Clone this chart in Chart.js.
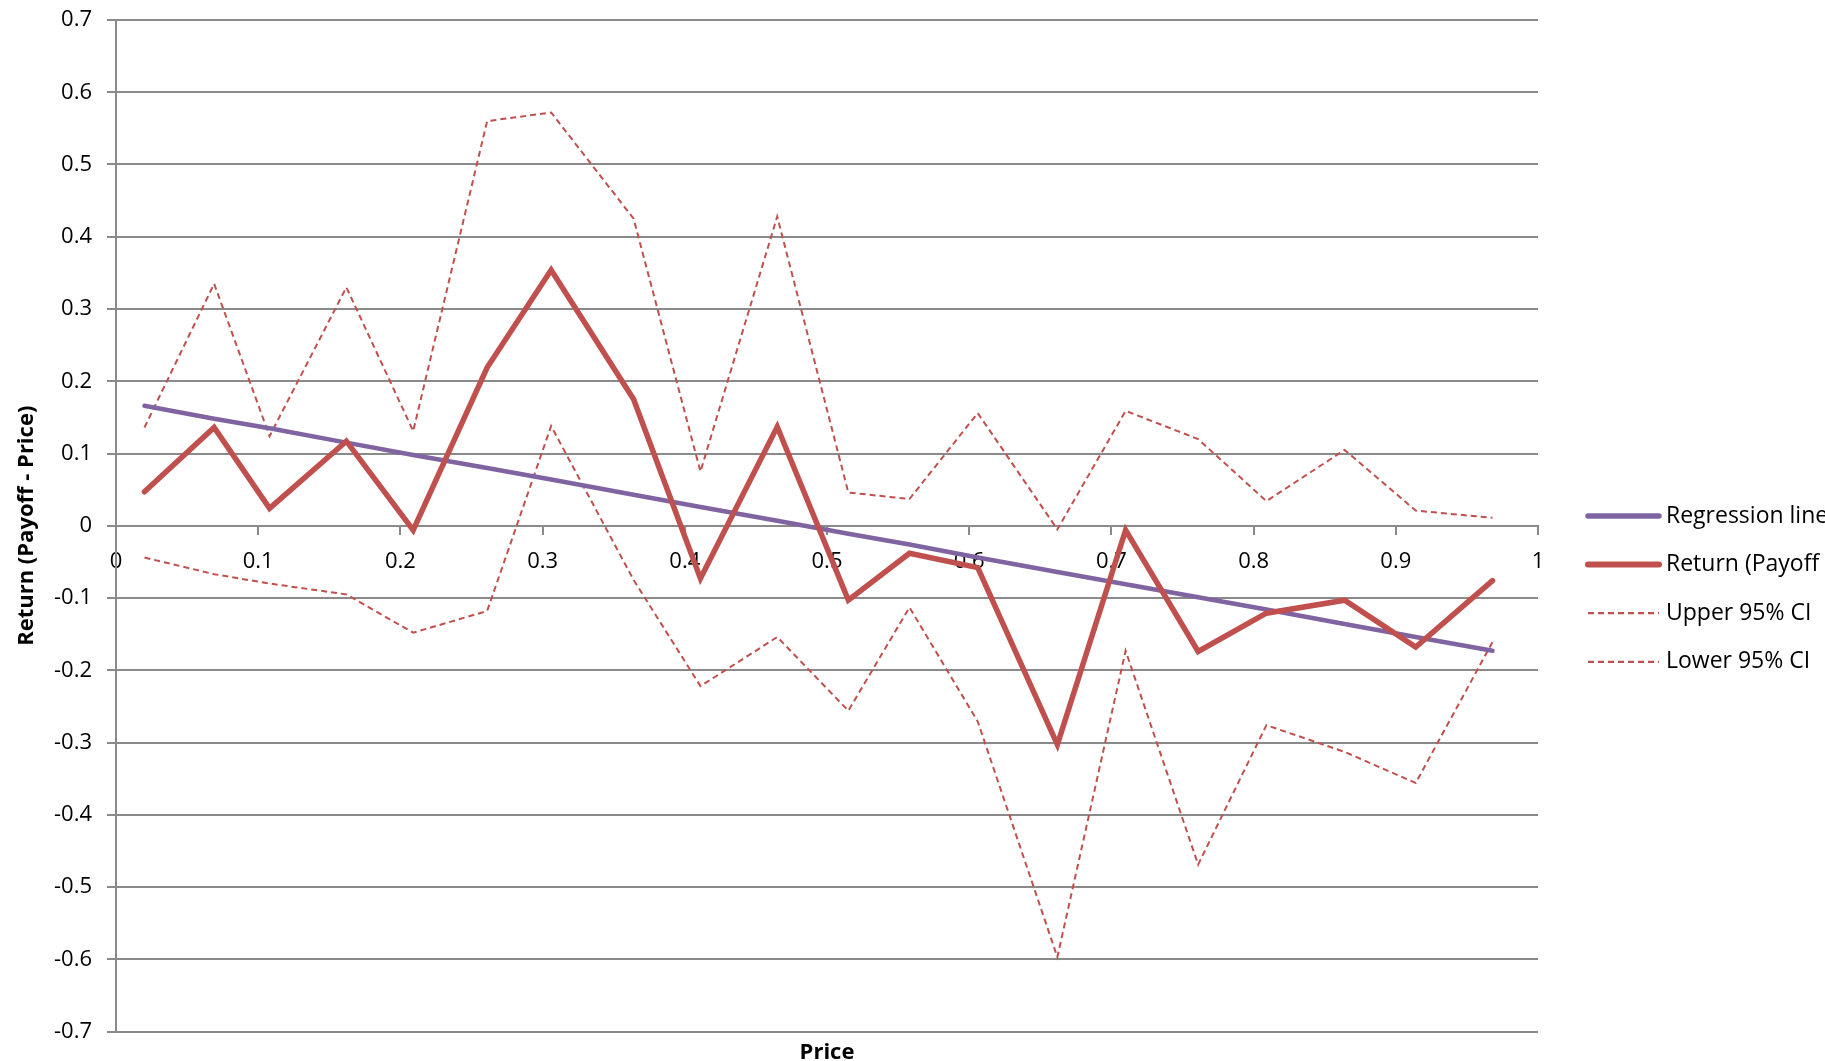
<!DOCTYPE html>
<html>
<head>
<meta charset="utf-8">
<script src="https://cdn.jsdelivr.net/npm/chart.js@4/dist/chart.umd.min.js"></script>
<style>
  html, body { margin: 0; padding: 0; background: #ffffff; }
  canvas { display: block; }
</style>
</head>
<body>
<canvas id="c" width="1825" height="1061"></canvas>
<script>
// ---- data ----
const prices = [0.020, 0.069, 0.108, 0.162, 0.209, 0.261, 0.306, 0.364, 0.411, 0.465,
                0.515, 0.558, 0.606, 0.662, 0.710, 0.761, 0.809, 0.864, 0.914, 0.968];
const regressionLine = [0.166, 0.148, 0.135, 0.115, 0.098, 0.080, 0.064, 0.043, 0.026, 0.007,
                        -0.011, -0.026, -0.044, -0.064, -0.081, -0.099, -0.116, -0.136, -0.154, -0.173];
const returnValues = [0.047, 0.136, 0.024, 0.117, -0.006, 0.219, 0.354, 0.175, -0.073, 0.137,
                      -0.103, -0.038, -0.058, -0.303, -0.006, -0.174, -0.121, -0.103, -0.168, -0.076];
const upperCI = [0.136, 0.335, 0.124, 0.330, 0.131, 0.560, 0.572, 0.425, 0.075, 0.428,
                 0.046, 0.037, 0.156, -0.005, 0.159, 0.120, 0.034, 0.105, 0.021, 0.011];
const lowerCI = [-0.044, -0.067, -0.080, -0.095, -0.148, -0.118, 0.138, -0.075, -0.222, -0.154,
                 -0.256, -0.113, -0.271, -0.597, -0.173, -0.469, -0.276, -0.313, -0.356, -0.161];
const seriesNames = ['Regression line', 'Return (Payoff - Price)', 'Upper 95% CI', 'Lower 95% CI'];
const xTickLabels = ['0', '0.1', '0.2', '0.3', '0.4', '0.5', '0.6', '0.7', '0.8', '0.9', '1'];
const yTickLabels = ['-0.7', '-0.6', '-0.5', '-0.4', '-0.3', '-0.2', '-0.1', '0',
                     '0.1', '0.2', '0.3', '0.4', '0.5', '0.6', '0.7'];
const xTitle = 'Price';
const yTitle = 'Return (Payoff - Price)';

const toPoints = arr => prices.map((x, i) => ({ x: x, y: arr[i] }));

const PURPLE = '#8064A2';
const RED = '#C0504D';
const GRID = '#8a8a8a';
const FONT = '"Open Sans", "DejaVu Sans", sans-serif';

const legendPlugin = {
  id: 'excelLegend',
  afterDraw(chart) {
    const ctx = chart.ctx;
    const ds = chart.data.datasets;
    const order = [0, 1, 2, 3];
    const x0 = chart.chartArea.right + 50;
    const x1 = x0 + 71;
    const tx = x0 + 78;
    const top = 516;
    const step = 48.6;
    ctx.save();
    order.forEach((k, row) => {
      const d = ds.find(s => s.legendIndex === k);
      const y = top + row * step;
      ctx.beginPath();
      ctx.strokeStyle = d.borderColor;
      ctx.lineWidth = d.legendWidth;
      ctx.lineCap = d.borderDash ? 'butt' : 'round';
      ctx.setLineDash(d.borderDash || []);
      ctx.moveTo(x0, y);
      ctx.lineTo(x1, y);
      ctx.stroke();
      ctx.setLineDash([]);
      ctx.fillStyle = '#000000';
      ctx.font = '23px ' + FONT;
      ctx.textBaseline = 'middle';
      ctx.textAlign = 'left';
      ctx.fillText(d.label, tx, y);
    });
    ctx.restore();
  }
};

new Chart(document.getElementById('c'), {
  type: 'scatter',
  data: {
    datasets: [
      {
        label: seriesNames[1], legendIndex: 1, legendWidth: 6,
        data: toPoints(returnValues), showLine: true,
        borderColor: RED, backgroundColor: RED, borderWidth: 5.5,
        borderCapStyle: 'round', borderJoinStyle: 'miter',
        pointRadius: 0, order: 0
      },
      {
        label: seriesNames[0], legendIndex: 0, legendWidth: 5.5,
        data: toPoints(regressionLine), showLine: true,
        borderColor: PURPLE, backgroundColor: PURPLE, borderWidth: 4.5,
        borderCapStyle: 'round',
        pointRadius: 0, order: 1
      },
      {
        label: seriesNames[2], legendIndex: 2, legendWidth: 2.2,
        data: toPoints(upperCI), showLine: true,
        borderColor: RED, backgroundColor: RED, borderWidth: 2,
        borderDash: [6, 4],
        pointRadius: 0, order: 2
      },
      {
        label: seriesNames[3], legendIndex: 3, legendWidth: 2.2,
        data: toPoints(lowerCI), showLine: true,
        borderColor: RED, backgroundColor: RED, borderWidth: 2,
        borderDash: [6, 4],
        pointRadius: 0, order: 3
      }
    ]
  },
  options: {
    responsive: false,
    devicePixelRatio: 1,
    animation: false,
    layout: { padding: { left: 0, right: 287, top: 20, bottom: -2.5 } },
    plugins: {
      legend: { display: false },
      tooltip: { enabled: false },
      title: {
        display: true, text: xTitle, position: 'bottom', fullSize: false,
        color: '#000000',
        font: { family: FONT, size: 22, weight: 'bold', lineHeight: 1.0 },
        padding: { top: 10, bottom: 0 }
      }
    },
    scales: {
      x: {
        type: 'linear',
        position: { y: 0 },
        min: 0, max: 1,
        ticks: {
          stepSize: 0.1,
          color: '#000000',
          font: { family: FONT, size: 22 },
          padding: 15,
          maxRotation: 0,
          autoSkip: false,
          callback: (v, i) => xTickLabels[i]
        },
        grid: { drawOnChartArea: false, drawTicks: true, tickLength: 8, color: GRID, lineWidth: 2 },
        border: { display: true, color: GRID, width: 2 }
      },
      y: {
        type: 'linear',
        min: -0.7, max: 0.7,
        afterFit: s => { s.width = 116; s.paddingTop = 0; s.paddingBottom = 0; },
        ticks: {
          stepSize: 0.1,
          color: '#000000',
          font: { family: FONT, size: 22, lineHeight: 1.0 },
          padding: 15,
          autoSkip: false,
          callback: (v, i) => yTickLabels[i]
        },
        grid: { drawOnChartArea: true, drawTicks: true, tickLength: 9, color: GRID, lineWidth: 2 },
        border: { display: true, color: GRID, width: 2 },
        title: {
          display: true, text: yTitle, color: '#000000',
          font: { family: FONT, size: 22, weight: 'bold' },
          padding: { top: 14, bottom: 0 }
        }
      }
    }
  },
  plugins: [legendPlugin]
});
</script>
</body>
</html>
